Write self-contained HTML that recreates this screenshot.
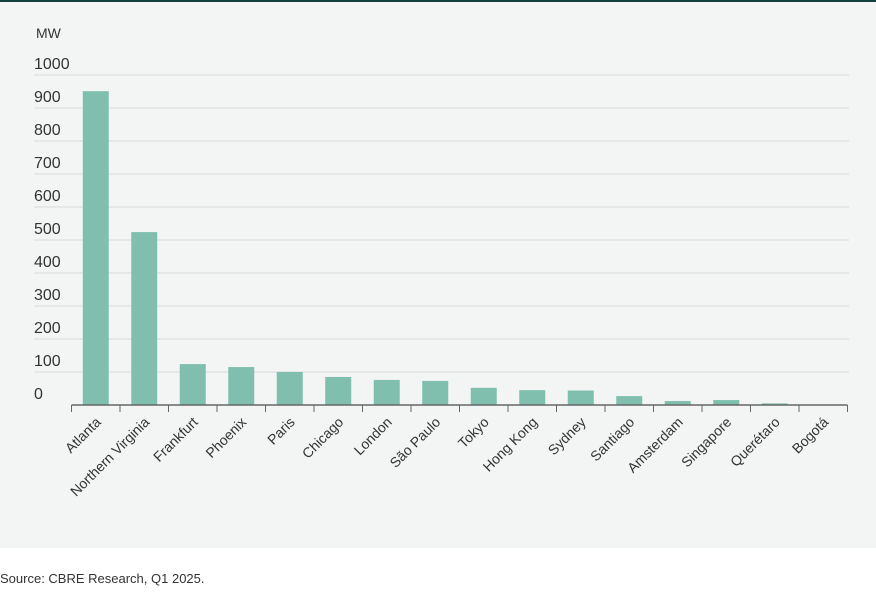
<!DOCTYPE html>
<html><head><meta charset="utf-8"><style>
body{margin:0;width:876px;height:595px;background:#fff;font-family:"Liberation Sans",sans-serif;overflow:hidden}
#panel{position:absolute;left:0;top:0;width:876px;height:548px;background:#f3f5f4;border-top:2px solid #123d3d;box-sizing:border-box}
#src{position:absolute;left:0;top:571px;font-size:13px;color:#333}
</style></head><body>
<div id="panel">
<svg id="chart" width="876" height="548" style="position:absolute;left:0;top:-2px"></svg>
</div>
<div id="src">Source: CBRE Research, Q1 2025.</div>
<script>
const categories=["Atlanta","Northern Virginia","Frankfurt","Phoenix","Paris","Chicago","London","São Paulo","Tokyo","Hong Kong","Sydney","Santiago","Amsterdam","Singapore","Querétaro","Bogotá"];
const values=[951,524,124,115,100,85,76,73,52,45,44,27,12,15,5,1];
const yTicks=[0,100,200,300,400,500,600,700,800,900,1000];
const NS="http://www.w3.org/2000/svg";
const svg=document.getElementById('chart');
const x0=71.5,bandW=48.5,yBase=405,yTop=75,yMax=1000;
const y=v=>yBase-(v/yMax)*(yBase-yTop);
const xc=i=>x0+bandW*(i+0.5);
function mk(t,a){const e=document.createElementNS(NS,t);for(const k in a)e.setAttribute(k,a[k]);svg.appendChild(e);return e;}
const u=mk('text',{x:36,y:38,'font-size':14,fill:'#333'});u.textContent='MW';


yTicks.forEach(t=>{
  if(t>0){const g=mk('line',{x1:34,x2:849,y1:y(t),y2:y(t),stroke:'#d8dcda','stroke-width':1});
  
  }
  const l=mk('text',{x:34,y:y(t)-6,'font-size':16,fill:'#333'});l.textContent=t;
  
  
});
values.forEach((v,i)=>{
  const b=mk('rect',{x:xc(i)-13,y:y(v),width:26,height:yBase-y(v),fill:'#80bfad'});
  
  
});
const ax=mk('line',{x1:x0,x2:x0+bandW*16,y1:yBase,y2:yBase,stroke:'#666','stroke-width':1.5});


for(let i=0;i<=16;i++){const t=mk('line',{x1:x0+bandW*i,x2:x0+bandW*i,y1:yBase,y2:yBase+7,stroke:'#666','stroke-width':1});

}
categories.forEach((c,i)=>{
  const cx=xc(i)+6,cy=yBase+18;
  const l=mk('text',{x:cx,y:cy,'font-size':14,fill:'#333','text-anchor':'end',transform:`rotate(-45 ${cx} ${cy})`});
  l.textContent=c;
  
  
});
</script>
</body></html>
